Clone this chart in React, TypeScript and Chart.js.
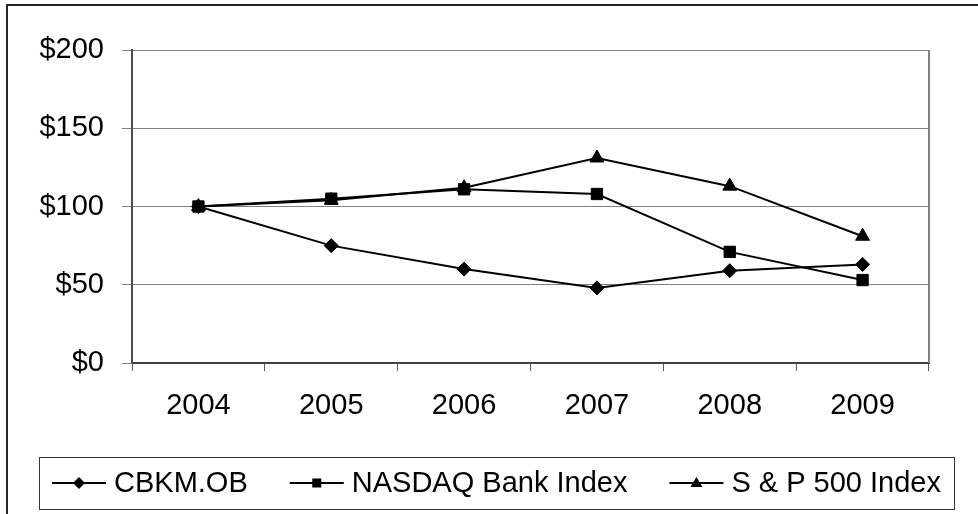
import React, { useEffect, useRef } from "react";
import { Chart, registerables } from "chart.js";

Chart.register(...registerables);

const years = ["2004", "2005", "2006", "2007", "2008", "2009"];
const cbkm = [100, 75, 60, 48, 59, 63];
const nasdaqBank = [100, 105, 111, 108, 71, 53];
const sp500 = [100, 104, 112, 131, 113, 81];
const seriesNames = ["CBKM.OB", "NASDAQ Bank Index", "S & P 500 Index"];
const yTicks = [0, 50, 100, 150, 200];

const FONT = '"Liberation Sans", Arial, sans-serif';
const FONT_SIZE = 29;

const framePlugin = {
  id: "frame",
  beforeDraw(chart: any) {
    const ctx = chart.ctx;
    ctx.save();
    ctx.fillStyle = "#ffffff";
    ctx.fillRect(0, 0, chart.width, chart.height);
    ctx.strokeStyle = "#262626";
    ctx.lineWidth = 2;
    ctx.strokeRect(7, 5, chart.width + 20, chart.height + 20);
    ctx.restore();
  },
  beforeDatasetsDraw(chart: any) {
    const { ctx, chartArea } = chart;
    ctx.save();
    ctx.strokeStyle = "#808080";
    ctx.lineWidth = 2;
    ctx.beginPath();
    ctx.moveTo(chartArea.right, chartArea.top);
    ctx.lineTo(chartArea.right, chartArea.bottom);
    ctx.stroke();
    ctx.restore();
  },
  afterDraw(chart: any) {
    const ctx = chart.ctx;
    const boxL = 39, boxT = 457, boxW = 915, boxH = 52;
    ctx.save();
    ctx.strokeStyle = "#333333";
    ctx.lineWidth = 1;
    ctx.strokeRect(boxL + 0.5, boxT + 0.5, boxW, boxH);
    ctx.font = `${FONT_SIZE}px ${FONT}`;
    ctx.textBaseline = "middle";
    ctx.fillStyle = "#000";
    const lineLen = 54;
    const textGap = 8;
    const margin = 13;
    const widths = seriesNames.map((n) => ctx.measureText(n).width);
    const itemsW = widths.reduce((a, w) => a + w + lineLen + textGap, 0);
    const gap = (boxW - 2 * margin - itemsW) / (seriesNames.length - 1);
    const cy = boxT + boxH / 2;
    let x = boxL + margin;
    const styles = ["diamond", "square", "triangle"];
    seriesNames.forEach((name, i) => {
      ctx.strokeStyle = "#000";
      ctx.lineWidth = 2;
      ctx.beginPath();
      ctx.moveTo(x, cy);
      ctx.lineTo(x + lineLen, cy);
      ctx.stroke();
      const mx = x + lineLen / 2;
      ctx.beginPath();
      if (styles[i] === "diamond") {
        ctx.moveTo(mx - 6, cy);
        ctx.lineTo(mx, cy - 6);
        ctx.lineTo(mx + 6, cy);
        ctx.lineTo(mx, cy + 6);
      } else if (styles[i] === "square") {
        ctx.rect(mx - 4.5, cy - 4.5, 9, 9);
      } else {
        ctx.moveTo(mx, cy - 6);
        ctx.lineTo(mx + 6, cy + 4);
        ctx.lineTo(mx - 6, cy + 4);
      }
      ctx.closePath();
      ctx.fill();
      ctx.fillText(name, x + lineLen + textGap, cy + 1);
      x += lineLen + textGap + widths[i] + gap;
    });
    ctx.restore();
  },
};

export default function App() {
  const ref = useRef<HTMLCanvasElement>(null);
  useEffect(() => {
    if (!ref.current) return;
    const common = {
      borderColor: "#000000",
      backgroundColor: "#000000",
      pointBackgroundColor: "#000000",
      pointBorderColor: "#000000",
      borderWidth: 2,
      pointBorderWidth: 1,
      tension: 0,
      fill: false,
    };
    const chart = new Chart(ref.current, {
      type: "line",
      data: {
        labels: years,
        datasets: [
          { ...common, label: seriesNames[0], data: cbkm, pointStyle: "rectRot", pointRadius: 7, order: 2 },
          { ...common, label: seriesNames[1], data: nasdaqBank, pointStyle: "rect", pointRadius: 8, order: 0 },
          { ...common, label: seriesNames[2], data: sp500, pointStyle: "triangle", pointRadius: 8, order: 1 },
        ],
      },
      options: {
        responsive: false,
        animation: false,
        devicePixelRatio: 1,
        layout: { padding: { left: 0, top: 50, right: 49, bottom: 0 } },
        plugins: { legend: { display: false }, tooltip: { enabled: false } },
        scales: {
          x: {
            offset: true,
            afterFit: (s: any) => { s.height = 151; },
            grid: { drawOnChartArea: false, drawTicks: true, tickLength: 8, color: "#595959", offset: true },
            border: { color: "#404040", width: 2 },
            ticks: { color: "#000", font: { family: FONT, size: FONT_SIZE }, padding: 18, maxRotation: 0 },
          },
          y: {
            min: 0,
            max: 200,
            afterFit: (s: any) => { s.width = 132; },
            afterBuildTicks: (s: any) => { s.ticks = yTicks.map((v) => ({ value: v })); },
            grid: { color: "#808080", lineWidth: 1, tickLength: 10 },
            border: { color: "#4d4d4d", width: 2 },
            ticks: {
              color: "#000",
              font: { family: FONT, size: FONT_SIZE },
              padding: 18,
              callback: (v: any) => "$" + v,
            },
          },
        },
      },
      plugins: [framePlugin],
    });
    return () => chart.destroy();
  }, []);
  return (
    <div style={{ position: "fixed", left: 0, top: 0, width: 978, height: 514, background: "#fff" }}>
      <canvas ref={ref} width={978} height={514} />
    </div>
  );
}
